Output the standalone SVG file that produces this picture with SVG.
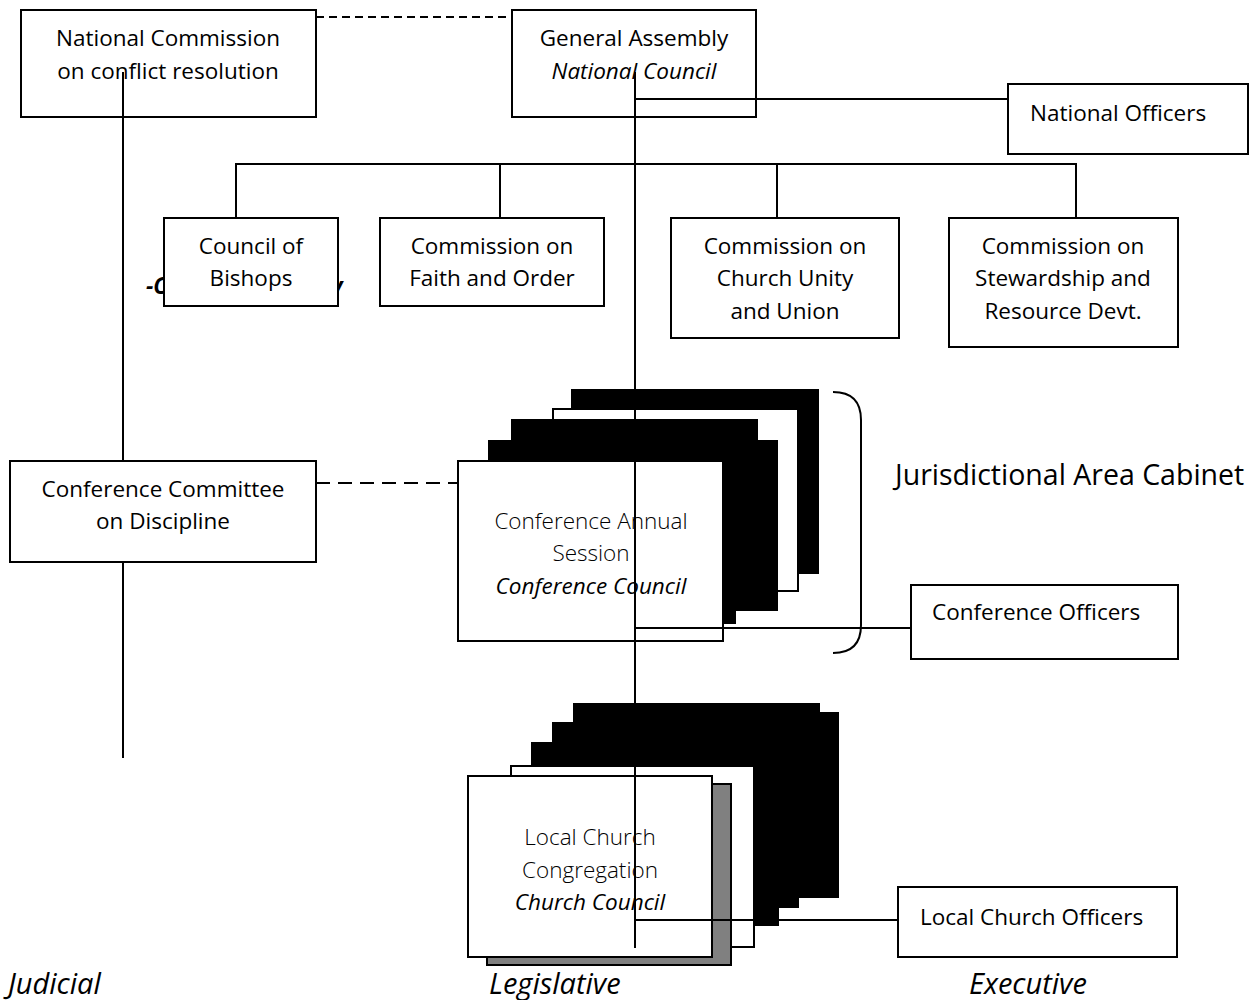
<svg xmlns="http://www.w3.org/2000/svg" width="1254" height="1000" viewBox="0 0 1254 1000">
<style>
  .box{fill:#fff;stroke:#000;stroke-width:2}
  .blk{fill:#000;stroke:#000;stroke-width:2}
  .gry{fill:#808080;stroke:#000;stroke-width:2}
  .ln{fill:none;stroke:#000;stroke-width:2}
  .dash1{fill:none;stroke:#000;stroke-width:2;stroke-dasharray:8 5}
  .dash2{fill:none;stroke:#000;stroke-width:2;stroke-dasharray:14 8}
  text{font-family:"Open Sans","Noto Sans",sans-serif;font-size:22.5px;fill:#000}
  .c{text-anchor:middle}
  .i{font-style:italic}
  .lt{font-weight:300}
  .lbl{font-size:29px;font-style:italic}
</style>
<rect width="1254" height="1000" fill="#fff"/>

<g id="connectors-back">
  <line class="dash1" x1="316" y1="17" x2="512" y2="17"/>
  <line class="dash2" x1="316" y1="483" x2="463" y2="483"/>
  <polyline class="ln" points="236,218 236,164 1076,164 1076,218"/>
  <line class="ln" x1="500" y1="164" x2="500" y2="218"/>
  <line class="ln" x1="777" y1="164" x2="777" y2="218"/>
  <path class="ln" d="M833,392 Q861,392 861,420 L861,625 Q861,653 833,653"/>
</g>

<g id="national-commission">
  <rect class="box" x="21" y="10" width="295" height="107"/>
  <text class="c" x="168" y="46">National Commission</text>
  <text class="c" x="168" y="79">on conflict resolution</text>
</g>

<g id="general-assembly">
  <rect class="box" x="512" y="10" width="244" height="107"/>
  <text class="c" x="634" y="46">General Assembly</text>
  <text class="c i" x="634" y="79">National Council</text>
</g>

<g id="national-officers">
  <rect class="box" x="1008" y="84" width="240" height="70"/>
  <text x="1030" y="121">National Officers</text>
</g>

<g id="council-of-bishops">
  <text x="146" y="294" style="font-weight:bold;font-style:italic">-C</text>
  <text x="331" y="294" style="font-weight:bold;font-style:italic">y</text>
  <rect class="box" x="164" y="218" width="174" height="88"/>
  <text class="c" x="251" y="254">Council of</text>
  <text class="c" x="251" y="286">Bishops</text>
</g>

<g id="faith-and-order">
  <rect class="box" x="380" y="218" width="224" height="88"/>
  <text class="c" x="492" y="254">Commission on</text>
  <text class="c" x="492" y="286">Faith and Order</text>
</g>

<g id="church-unity">
  <rect class="box" x="671" y="218" width="228" height="120"/>
  <text class="c" x="785" y="254">Commission on</text>
  <text class="c" x="785" y="286">Church Unity</text>
  <text class="c" x="785" y="319">and Union</text>
</g>

<g id="stewardship">
  <rect class="box" x="949" y="218" width="229" height="129"/>
  <text class="c" x="1063" y="254">Commission on</text>
  <text class="c" x="1063" y="286">Stewardship and</text>
  <text class="c" x="1063" y="319">Resource Devt.</text>
</g>

<g id="conference-committee">
  <rect class="box" x="10" y="461" width="306" height="101"/>
  <text class="c" x="163" y="497">Conference Committee</text>
  <text class="c" x="163" y="529">on Discipline</text>
</g>

<g id="conference-annual-session">
  <rect class="blk" x="572" y="390" width="246" height="183"/>
  <rect class="box" x="553" y="409" width="245" height="182"/>
  <rect class="blk" x="512" y="420" width="245" height="180"/>
  <rect class="blk" x="489" y="441" width="288" height="169"/>
  <rect class="blk" x="495" y="445" width="240" height="178"/>
  <rect class="box" x="458" y="461" width="265" height="180"/>
  <text class="c lt" x="591" y="529">Conference Annual</text>
  <text class="c lt" x="591" y="561">Session</text>
  <text class="c i" x="591" y="594">Conference Council</text>
</g>

<g id="jurisdictional-area-cabinet">
  <text x="895" y="485" style="font-size:28.5px">Jurisdictional Area Cabinet</text>
</g>

<g id="conference-officers">
  <rect class="box" x="911" y="585" width="267" height="74"/>
  <text x="932" y="620">Conference Officers</text>
</g>

<g id="local-church">
  <rect class="blk" x="574" y="704" width="245" height="180"/>
  <rect class="blk" x="590" y="713" width="248" height="184"/>
  <rect class="blk" x="553" y="723" width="245" height="184"/>
  <rect class="blk" x="532" y="743" width="246" height="182"/>
  <rect class="box" x="511" y="766" width="243" height="181"/>
  <rect class="gry" x="487" y="784" width="244" height="181"/>
  <rect class="box" x="468" y="776" width="244" height="181"/>
  <text class="c lt" x="590" y="845">Local Church</text>
  <text class="c lt" x="590" y="878">Congregation</text>
  <text class="c i" x="590" y="910">Church Council</text>
</g>

<g id="local-church-officers">
  <rect class="box" x="898" y="887" width="279" height="70"/>
  <text x="920" y="925">Local Church Officers</text>
</g>

<g id="connectors">
  <line class="ln" x1="123" y1="72" x2="123" y2="461"/>
  <line class="ln" x1="123" y1="562" x2="123" y2="758"/>
  <line class="ln" x1="635" y1="72" x2="635" y2="948"/>
  <line class="ln" x1="635" y1="99" x2="1008" y2="99"/>
  <line class="ln" x1="635" y1="628" x2="911" y2="628"/>
  <line class="ln" x1="635" y1="920" x2="898" y2="920"/>
</g>

<g id="labels">
  <text class="lbl" x="8" y="994">Judicial</text>
  <text class="lbl" x="489" y="994">Legislative</text>
  <text class="lbl" x="969" y="994">Executive</text>
</g>
</svg>
